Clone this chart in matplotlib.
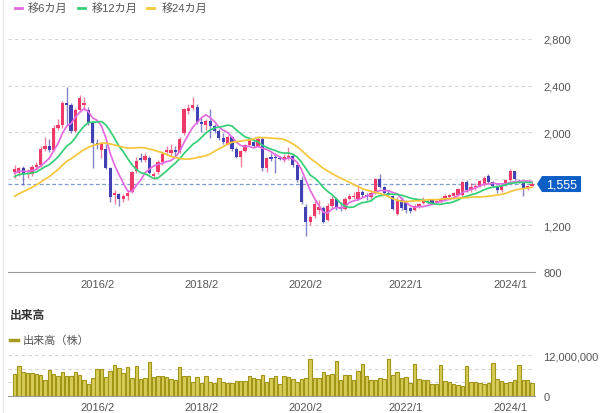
import matplotlib
matplotlib.use("Agg")
import matplotlib.pyplot as plt
import numpy as np
from matplotlib.lines import Line2D
from matplotlib.patches import Polygon

plt.rcParams["font.family"] = ["Liberation Sans", "Noto Sans CJK JP", "DejaVu Sans"]

# monthly candles 2014/7 .. 2024/6
START_YEAR, START_MONTH = 2014, 7

# closes of the 23 months before the first candle (only feed the moving averages)
prior_close = [1180, 1200, 1230, 1220, 1250, 1270, 1290, 1300, 1320, 1340, 1360, 1400,
               1500, 1560, 1620, 1640, 1620, 1600, 1600, 1640, 1660, 1650, 1670]

opens = [1660, 1650, 1690, 1640, 1640, 1700, 1720, 1860, 1880, 1850,
         2040, 2060, 2250, 2230, 2010, 2190, 2230, 2190, 2080, 1910,
         1850, 1860, 1690, 1460, 1470, 1430, 1450, 1490, 1670, 1780,
         1760, 1780, 1620, 1660, 1740, 1830, 1820, 1850, 1830, 1990,
         2180, 2210, 2220, 2090, 2060, 2100, 2050, 2010, 1950, 1900,
         1960, 1860, 1790, 1840, 1890, 1920, 1880, 1940, 1690, 1790,
         1790, 1780, 1760, 1780, 1800, 1720, 1590, 1360, 1230, 1280,
         1330, 1350, 1250, 1370, 1430, 1360, 1340, 1430, 1440, 1430,
         1490, 1460, 1440, 1480, 1600, 1530, 1480, 1450, 1300, 1420,
         1410, 1350, 1330, 1370, 1390, 1410, 1420, 1400, 1400, 1420,
         1440, 1450, 1460, 1460, 1570, 1500, 1530, 1540, 1550, 1620,
         1570, 1540, 1500, 1550, 1590, 1665, 1580, 1565, 1515, 1540]
highs = [1720, 1700, 1710, 1680, 1720, 1740, 1880, 1960, 1940, 2060,
         2110, 2270, 2390, 2250, 2210, 2320, 2300, 2220, 2090, 1940,
         1910, 1900, 1700, 1500, 1480, 1470, 1500, 1670, 1790, 1820,
         1820, 1800, 1660, 1760, 1830, 1880, 1900, 1880, 1960, 2210,
         2240, 2300, 2240, 2120, 2110, 2200, 2070, 2030, 1990, 1980,
         1970, 1870, 1850, 1900, 1940, 1930, 1960, 1960, 1790, 1820,
         1820, 1800, 1810, 1870, 1810, 1730, 1620, 1380, 1290, 1420,
         1420, 1370, 1390, 1450, 1440, 1400, 1440, 1470, 1490, 1550,
         1500, 1480, 1500, 1610, 1640, 1540, 1500, 1460, 1440, 1440,
         1420, 1360, 1380, 1390, 1440, 1420, 1430, 1420, 1440, 1470,
         1470, 1490, 1520, 1580, 1590, 1560, 1560, 1590, 1620, 1640,
         1580, 1550, 1545, 1600, 1680, 1670, 1600, 1575, 1545, 1570]
lows = [1610, 1620, 1545, 1610, 1620, 1680, 1700, 1840, 1830, 1840,
        2020, 2040, 2060, 1990, 2000, 2170, 2190, 2060, 1690, 1860,
        1780, 1680, 1400, 1380, 1365, 1400, 1420, 1480, 1650, 1740,
        1740, 1640, 1600, 1640, 1720, 1810, 1800, 1800, 1820, 1980,
        2160, 2190, 2070, 2000, 2020, 1950, 1990, 1930, 1900, 1890,
        1840, 1780, 1700, 1830, 1880, 1870, 1870, 1670, 1660, 1750,
        1650, 1760, 1740, 1760, 1700, 1570, 1380, 1110, 1200, 1260,
        1300, 1220, 1240, 1350, 1330, 1320, 1330, 1420, 1430, 1420,
        1440, 1420, 1430, 1470, 1520, 1470, 1440, 1330, 1290, 1330,
        1310, 1310, 1320, 1350, 1380, 1380, 1380, 1390, 1390, 1410,
        1430, 1440, 1450, 1450, 1490, 1490, 1500, 1530, 1540, 1560,
        1530, 1480, 1490, 1540, 1580, 1590, 1560, 1455, 1505, 1530]
closes = [1680, 1690, 1640, 1650, 1700, 1720, 1860, 1880, 1850, 2040,
          2060, 2250, 2230, 2010, 2190, 2290, 2250, 2080, 1910, 1890,
          1900, 1690, 1440, 1480, 1430, 1450, 1480, 1660, 1750, 1760,
          1800, 1650, 1640, 1740, 1810, 1850, 1850, 1830, 1940, 2200,
          2210, 2230, 2090, 2070, 2100, 2050, 2010, 1950, 1920, 1960,
          1860, 1790, 1840, 1890, 1930, 1880, 1940, 1690, 1780, 1770,
          1780, 1770, 1790, 1800, 1720, 1590, 1400, 1230, 1270, 1380,
          1360, 1230, 1370, 1430, 1360, 1340, 1430, 1450, 1450, 1490,
          1460, 1440, 1480, 1600, 1530, 1480, 1460, 1340, 1420, 1350,
          1330, 1320, 1370, 1380, 1420, 1400, 1390, 1410, 1430, 1450,
          1460, 1480, 1510, 1570, 1500, 1530, 1540, 1580, 1610, 1570,
          1540, 1500, 1540, 1590, 1670, 1600, 1565, 1525, 1540, 1555]

# monthly volume, millions of shares
volume_m = [6.4, 8.9, 7.1, 6.7, 6.6, 6.4, 6.1, 4.8, 7.7, 6.4,
            6.0, 7.1, 5.8, 6.0, 6.9, 6.1, 4.8, 3.5, 5.2, 7.9,
            7.9, 5.5, 7.4, 9.1, 8.1, 6.7, 8.4, 5.2, 8.7, 5.0,
            5.2, 9.9, 5.5, 6.0, 5.8, 5.5, 5.0, 4.8, 8.4, 5.8,
            5.8, 4.0, 5.5, 3.8, 5.8, 4.0, 3.7, 5.2, 4.0, 3.7,
            3.8, 4.5, 4.4, 4.4, 5.8, 5.2, 5.0, 6.1, 4.2, 5.2,
            5.8, 3.5, 5.8, 5.5, 5.0, 4.0, 5.0, 5.2, 10.9, 5.2,
            5.2, 7.1, 6.1, 6.4, 10.1, 4.8, 6.1, 6.1, 4.8, 7.4,
            9.3, 5.8, 4.8, 4.8, 5.2, 5.0, 10.7, 6.1, 6.9, 5.2,
            5.5, 3.8, 9.3, 5.0, 4.8, 4.8, 3.5, 3.5, 9.1, 4.5,
            4.2, 3.5, 3.2, 2.8, 8.9, 4.0, 4.0, 3.8, 3.6, 3.8,
            9.7, 5.0, 4.4, 3.8, 4.2, 4.8, 9.1, 4.8, 4.6, 3.7]

tick_labels = ["2016/2", "2018/2", "2020/2", "2022/1", "2024/1"]
price_ticks = [800, 1200, 1600, 2000, 2400, 2800]
ma_windows = [6, 12, 24]
ma_labels = ["移6カ月", "移12カ月", "移24カ月"]
ma_colors = ["#e36be0", "#35cf78", "#f6c63a"]

UP, DOWN = "#ef3a69", "#4141b3"
GRID = "#d4d4d4"
TXT = "#555555"
W, H = 600, 414


def fx(px):
    return px / W


def fy(py):
    return 1 - py / H


def month_index(label):
    y, m = (int(s) for s in label.split("/"))
    return (y - START_YEAR) * 12 + (m - START_MONTH)


o = np.array(opens, float)
h = np.array(highs, float)
l = np.array(lows, float)
c = np.array(closes, float)
x = np.arange(len(c))
full = np.concatenate([prior_close, c])
n_prior = len(prior_close)

fig = plt.figure(figsize=(W / 100, H / 100), dpi=100)
fig.add_artist(Line2D([fx(2.5)] * 2, [0, 1], color="#e8e8e8", lw=1))

ax_left, ax_right = 8, 535
ax = fig.add_axes([fx(ax_left), fy(273), fx(ax_right) - fx(ax_left), fy(40) - fy(273)])
xlim = (-1.5, len(c) - 0.3)
ax.set_xlim(*xlim)
ax.set_ylim(800, 2800)

for v in price_ticks[1:]:
    ax.axhline(v, color=GRID, lw=0.8, ls=(0, (3, 3)), zorder=0)

up = c >= o
colors = np.where(up, UP, DOWN)
ax.vlines(x, l, h, colors=colors, lw=1.0, alpha=0.65, zorder=2)
body = np.maximum(np.abs(c - o), 8)
ax.bar(x, body, bottom=np.minimum(o, c), width=0.74, color=colors, zorder=3, lw=0)

for win, col in zip(ma_windows, ma_colors):
    ma = np.convolve(full, np.ones(win) / win, mode="valid")
    ma = ma[n_prior - win + 1:]
    ax.plot(x, ma, color=col, lw=1.25, zorder=4)

last = c[-1]
ax.axhline(last, color="#7b9bcc", lw=0.9, ls=(0, (3, 2)), zorder=1)

for s in ["top", "left", "right"]:
    ax.spines[s].set_visible(False)
ax.spines["bottom"].set_color("#999999")
ax.yaxis.tick_right()
ax.set_yticks(price_ticks, [f"{v:,}" for v in price_ticks])
tick_pos = [month_index(t) for t in tick_labels]
ax.set_xticks(tick_pos, tick_labels)
ax.tick_params(length=0, labelsize=8, colors=TXT)
ax.tick_params(axis="y", pad=6)
ax.tick_params(axis="x", pad=5)

# current price tag (drawn over the 1,600 label as in the source)
ax_w = ax_right - ax_left
per_px = 2000 / (273 - 40)
hh = 8 * per_px
tag = Polygon([(1 + 2 / ax_w, last), (1 + 7 / ax_w, last + hh), (1 + 46 / ax_w, last + hh),
               (1 + 46 / ax_w, last - hh), (1 + 7 / ax_w, last - hh)],
              closed=True, transform=ax.get_yaxis_transform(), clip_on=False,
              fc="#0d5fc6", ec="none", zorder=10)
ax.add_patch(tag)
ax.text(1 + 26.5 / ax_w, last, f"{int(last):,}", transform=ax.get_yaxis_transform(),
        ha="center", va="center", color="white", fontsize=9, zorder=11, clip_on=False)

# top legend
for (lx, tx), lab, col in zip([(15, 28), (78, 92), (147, 162)], ma_labels, ma_colors):
    fig.add_artist(Line2D([fx(lx), fx(lx + 7)], [fy(9)] * 2, color=col, lw=2))
    fig.text(fx(tx), fy(9), lab, color=TXT, fontsize=8, va="center")

# volume panel
fig.text(fx(10), fy(316), "出来高", color="#333333", fontsize=8.5, fontweight="bold", va="center")
fig.add_artist(Line2D([fx(10), fx(18)], [fy(341)] * 2, color="#a89b21", lw=2.5))
fig.text(fx(23), fy(341), "出来高（株）", color=TXT, fontsize=8, va="center")

axv = fig.add_axes([fx(ax_left), fy(397), fx(ax_right) - fx(ax_left), fy(356) - fy(397)])
axv.set_xlim(*xlim)
axv.set_ylim(0, 12e6)
for v in [4e6, 8e6, 12e6]:
    axv.axhline(v, color=GRID, lw=0.8, ls=(0, (3, 3)), zorder=0)
axv.bar(x, np.array(volume_m) * 1e6, width=0.8, color="#d6cc58", edgecolor="#a09516",
        lw=0.8, zorder=2)
for s in ["top", "left", "right"]:
    axv.spines[s].set_visible(False)
axv.spines["bottom"].set_color("#999999")
axv.yaxis.tick_right()
axv.set_yticks([0, 12e6], ["0", "12,000,000"])
axv.set_xticks(tick_pos, tick_labels)
axv.tick_params(length=0, labelsize=8, colors=TXT)
axv.tick_params(axis="y", pad=6)
axv.tick_params(axis="x", pad=4)

fig.savefig("out.png", dpi=100)
